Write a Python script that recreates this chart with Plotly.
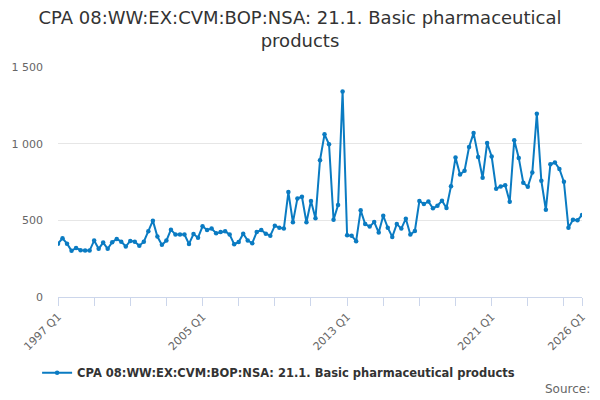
import plotly.graph_objects as go

# quarterly values, 1997 Q1 .. 2026 Q1
values = [
    348, 383, 348, 301, 320, 305, 303, 303, 368, 314, 355, 314,
    357, 379, 361, 329, 366, 361, 335, 361, 429, 498, 394, 340,
    368, 439, 407, 407, 407, 346, 411, 387, 461, 437, 446, 416,
    424, 429, 407, 344, 359, 413, 368, 351, 424, 437, 413, 400,
    465, 452, 446, 684, 487, 643, 654, 487, 626, 513, 892, 1061,
    996, 504, 600, 1340, 403, 400, 364, 565, 476, 459, 489, 420,
    530, 452, 392, 476, 446, 511, 407, 431, 626, 606, 623, 578,
    595, 628, 580, 723, 909, 799, 823, 978, 1069, 913, 777, 1004,
    916, 706, 721, 729, 621, 1022, 907, 745, 719, 812, 1195, 758,
    569, 866, 877, 835, 751, 452, 504, 500, 535,
]
quarters = ["%d Q%d" % (1997 + i // 4, i % 4 + 1) for i in range(len(values))]

tick_idx = list(range(0, len(values), 8)) + [len(values) - 1]
labelled = ["1997 Q1", "2005 Q1", "2013 Q1", "2021 Q1", "2026 Q1"]
tick_text = [quarters[i] if quarters[i] in labelled else "" for i in tick_idx]

series_name = "CPA 08:WW:EX:CVM:BOP:NSA: 21.1. Basic pharmaceutical products"

fig = go.Figure()
fig.add_trace(go.Scatter(
    x=list(range(len(values))), y=values, mode="lines+markers",
    name=series_name,
    line=dict(color="#0a7bc2", width=2),
    marker=dict(color="#0a7bc2", size=4.5),
))

fig.update_layout(
    width=600, height=400,
    paper_bgcolor="white", plot_bgcolor="white",
    font=dict(family="DejaVu Sans", color="#333333"),
    title=dict(text="CPA 08:WW:EX:CVM:BOP:NSA: 21.1. Basic pharmaceutical<br>products",
               x=0.5, xanchor="center", y=0.94, yanchor="top",
               font=dict(size=18, color="#333333")),
    margin=dict(l=58, r=18, t=67, b=103),
    showlegend=True,
    legend=dict(orientation="h", x=0.421, xanchor="center",
                yref="container", y=0.068, yanchor="middle",
                itemwidth=30,
                font=dict(size=11.5, color="#333333", weight="bold")),
    annotations=[dict(text="Source:", x=1, xref="paper", xanchor="right",
                      y=-0.4, yref="paper", yanchor="middle", showarrow=False,
                      font=dict(size=12, color="#666666"), xshift=10)],
)
fig.update_xaxes(
    range=[0, len(values) - 1], automargin=False,
    tickmode="array", tickvals=tick_idx, ticktext=tick_text,
    tickangle=-45, ticks="outside", ticklen=8, tickcolor="#ccd6eb",
    showline=True, linecolor="#ccd6eb", linewidth=1,
    showgrid=False, zeroline=False,
    tickfont=dict(size=11, color="#666666"),
)
fig.update_yaxes(
    range=[0, 1500], automargin=False,
    tickvals=[0, 500, 1000, 1500], ticktext=["0", "500", "1 000", "1 500"],
    gridcolor="#e6e6e6", zeroline=False, showline=False,
    tickfont=dict(size=11, color="#666666"), ticklabelstandoff=14,
)

fig.write_html("out.html", config={"displayModeBar": False},
               post_script="document.body.style.margin='0px';")
